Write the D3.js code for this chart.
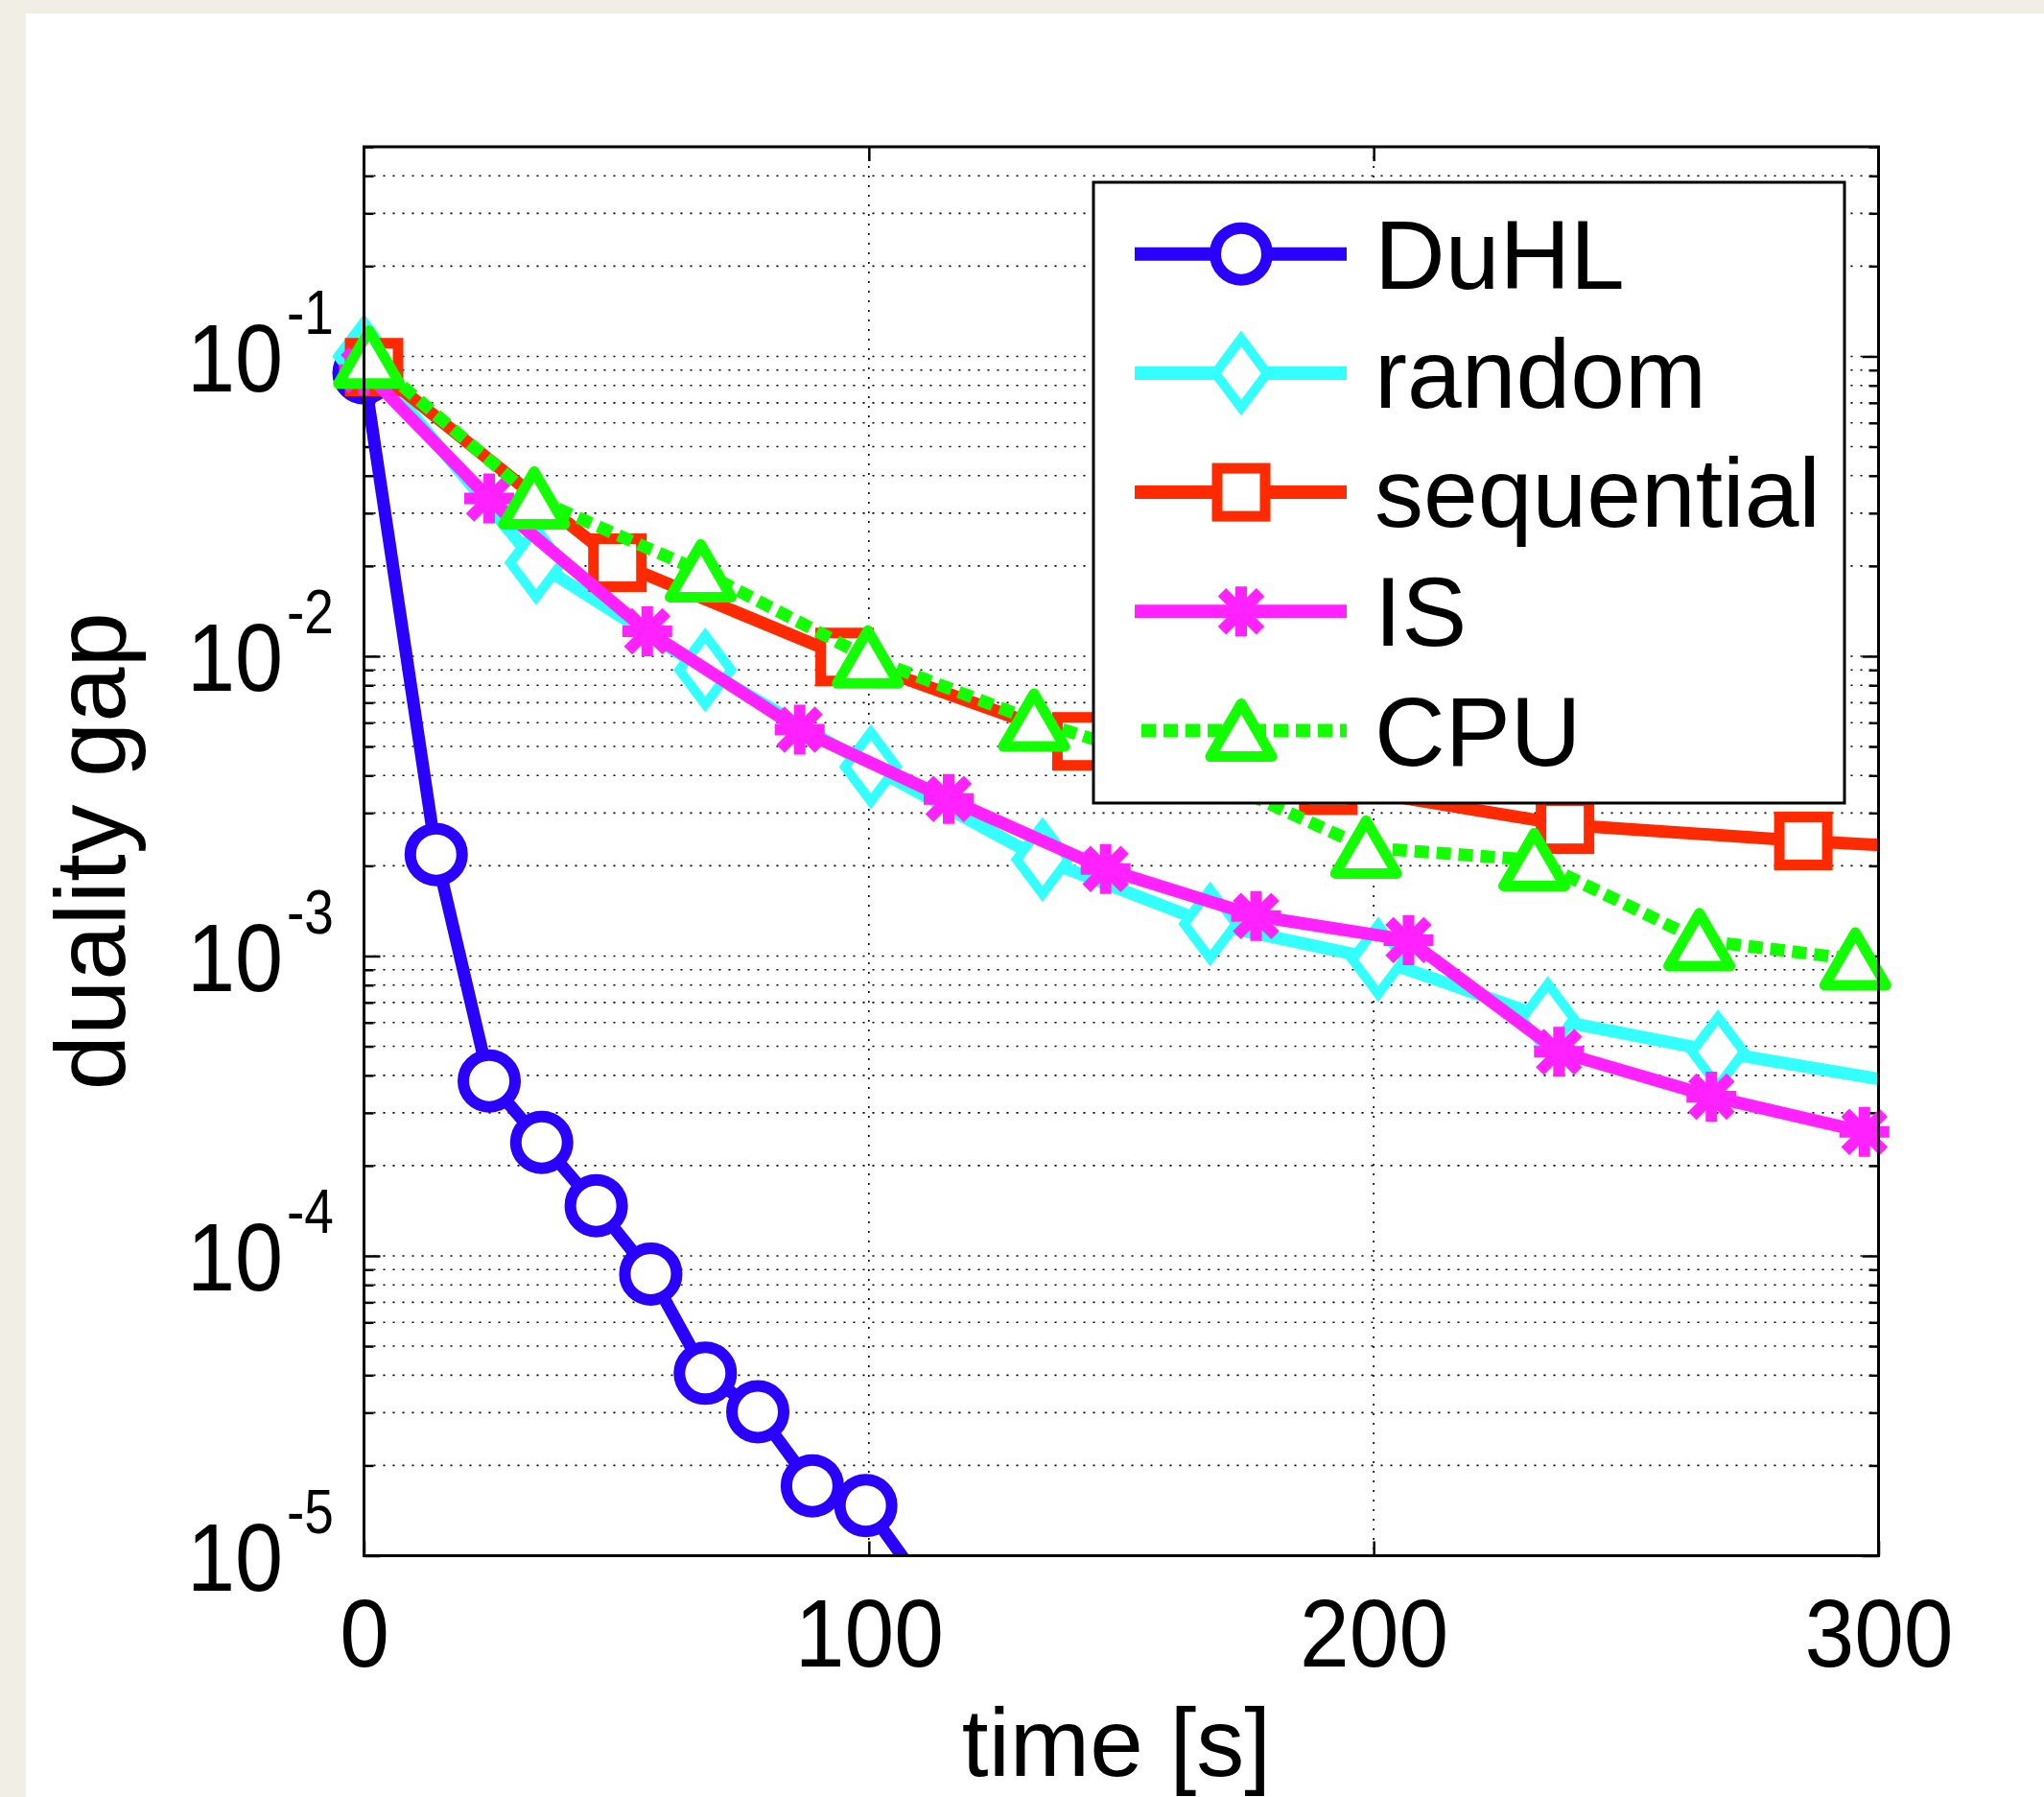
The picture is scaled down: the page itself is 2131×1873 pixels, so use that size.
<!DOCTYPE html>
<html lang="en">
<head>
  <meta charset="utf-8">
  <title>duality gap vs time</title>
  <script src="https://d3js.org/d3.v7.min.js"></script>
  <style>
    body { margin: 0; background: #f1eee6; }
    svg { display: block; }
    text { font-family: "Liberation Sans", Arial, sans-serif; fill: #000; }
    .grid line { stroke: #000; stroke-width: 1.6; stroke-dasharray: 2, 8; }
    .axis path { display: none; }
    .axis line { stroke: #000; stroke-width: 2.5; }
  </style>
</head>
<body>
<script>
  // values (time in s, duality gap)
  const duhlTime = [0, 14.3, 24.8, 35.2, 46.0, 56.8, 67.6, 78.0, 88.8, 99.4, 110.2];
  const duhlGap = [0.088, 2.18e-3, 3.83e-4, 2.39e-4, 1.47e-4, 8.7e-5, 4.06e-5, 3.02e-5, 1.71e-5, 1.47e-5, 8.2e-6];

  const randomTime = [0, 34.1, 67.6, 100.4, 134.4, 167.6, 200.9, 234.5, 268.2, 301.7];
  const randomGap = [0.1, 0.0205, 9.0e-3, 4.28e-3, 2.1e-3, 1.28e-3, 9.75e-4, 6.19e-4, 4.79e-4, 3.85e-4];

  const seqTime = [2, 50.2, 95.2, 142.1, 191, 237.9, 285.1, 332];
  const seqGap = [0.092, 0.0205, 9.94e-3, 5.2e-3, 3.7e-3, 2.74e-3, 2.42e-3, 2.2e-3];

  const isTime = [0, 24.8, 56.1, 86.3, 115.8, 146.9, 176.7, 206.9, 236.7, 266.9, 297.2, 327];
  const isGap = [0.09, 0.0336, 0.0121, 5.69e-3, 3.34e-3, 1.95e-3, 1.36e-3, 1.13e-3, 4.79e-4, 3.4e-4, 2.59e-4, 1.95e-4];

  const cpuTime = [1, 33.7, 66.7, 99.8, 132.7, 165.6, 198.5, 231.8, 264.5, 295.4, 328];
  const cpuGap = [0.099, 0.0336, 0.0192, 9.9e-3, 6.1e-3, 4.1e-3, 2.3e-3, 2.09e-3, 1.13e-3, 9.75e-4, 8.8e-4];

  const seriesNames = ["DuHL", "random", "sequential", "IS", "CPU"];
  const xTicks = [0, 100, 200, 300];
  const yDecades = [-5, -4, -3, -2, -1];

  const series = [
    { name: seriesNames[0], t: duhlTime, v: duhlGap, color: "#2a00ff", marker: "circle", dash: null },
    { name: seriesNames[1], t: randomTime, v: randomGap, color: "#33ffff", marker: "diamond", dash: null },
    { name: seriesNames[2], t: seqTime, v: seqGap, color: "#ff2a00", marker: "square", dash: null },
    { name: seriesNames[3], t: isTime, v: isGap, color: "#ff22ff", marker: "star", dash: null },
    { name: seriesNames[4], t: cpuTime, v: cpuGap, color: "#11ff00", marker: "triangle", dash: "15,8" }
  ];

  const W = 2131, H = 1873;
  const pLeft = 379.5, pRight = 1958.5, pTop = 153, pBottom = 1621.5;

  const svg = d3.select("body").append("svg")
    .attr("width", W)
    .attr("height", H);

  // white card on beige page
  svg.append("rect").attr("x", 27).attr("y", 14).attr("width", W - 27).attr("height", H - 14).attr("fill", "#fff");

  const x = d3.scaleLinear().domain([0, 300]).range([pLeft, pRight]);
  const y = d3.scaleLog().domain([1e-5, 0.5]).range([pBottom, pTop]);

  // grid values
  const minorVals = [];
  const majorVals = yDecades.map(d => Math.pow(10, d));
  yDecades.forEach(d => {
    for (let k = 2; k <= 9; k++) {
      const v = k * Math.pow(10, d);
      if (v <= 0.5) minorVals.push(v);
    }
  });

  const grid = svg.append("g").attr("class", "grid");
  grid.selectAll(".hy")
    .data(minorVals.concat(majorVals.slice(1)))
    .enter().append("line")
    .attr("x1", pLeft).attr("x2", pRight)
    .attr("y1", d => y(d)).attr("y2", d => y(d));
  grid.selectAll(".vx")
    .data([100, 200])
    .enter().append("line")
    .attr("x1", d => x(d)).attr("x2", d => x(d))
    .attr("y1", pTop).attr("y2", pBottom);

  // ticks (inward, MATLAB style)
  svg.append("g").attr("class", "axis")
    .attr("transform", `translate(0,${pBottom})`)
    .call(d3.axisBottom(x).tickValues(xTicks).tickSize(-15).tickPadding(45))
    .call(g => g.selectAll("text")
      .attr("font-size", 100)
      .attr("font-family", "Liberation Sans, Arial, sans-serif")
      .attr("transform", "scale(0.93,1)"));
  svg.append("g").attr("class", "axis")
    .attr("transform", `translate(0,${pTop})`)
    .call(d3.axisTop(x).tickValues([100, 200]).tickSize(-15).tickFormat(""));

  svg.append("g").attr("class", "axis")
    .attr("transform", `translate(${pLeft},0)`)
    .call(d3.axisLeft(y).tickValues(majorVals).tickSize(-17).tickFormat(""));
  svg.append("g").attr("class", "axis")
    .attr("transform", `translate(${pLeft},0)`)
    .call(d3.axisLeft(y).tickValues(minorVals).tickSize(-10).tickFormat(""));
  svg.append("g").attr("class", "axis")
    .attr("transform", `translate(${pRight},0)`)
    .call(d3.axisRight(y).tickValues(majorVals).tickSize(-17).tickFormat(""));
  svg.append("g").attr("class", "axis")
    .attr("transform", `translate(${pRight},0)`)
    .call(d3.axisRight(y).tickValues(minorVals).tickSize(-10).tickFormat(""));

  // y tick labels 10^d
  const yl = svg.append("g").selectAll("g")
    .data(yDecades)
    .enter().append("g");
  yl.append("text")
    .attr("transform", d => `translate(295,${y(Math.pow(10, d)) + 36.5}) scale(0.9,1)`)
    .attr("text-anchor", "end")
    .attr("font-size", 100)
    .text("10");
  yl.append("text")
    .attr("transform", d => `translate(299,${y(Math.pow(10, d)) - 23.5}) scale(0.86,1)`)
    .attr("font-size", 64)
    .text(d => "-" + Math.abs(d));

  // axis titles
  svg.append("text")
    .attr("x", (pLeft + pRight) / 2 - 5)
    .attr("y", 1851)
    .attr("text-anchor", "middle")
    .attr("font-size", 100)
    .text("time [s]");
  svg.append("text")
    .attr("transform", `translate(130,${(pTop + pBottom) / 2}) rotate(-90)`)
    .attr("text-anchor", "middle")
    .attr("font-size", 103)
    .text("duality gap");

  // clip for the lines
  svg.append("clipPath").attr("id", "plotclip")
    .append("rect").attr("x", pLeft).attr("y", pTop)
    .attr("width", pRight - pLeft).attr("height", pBottom - pTop);

  function drawMarker(g, type, color) {
    const sw = 11;
    if (type === "circle") {
      g.append("circle").attr("r", 27).attr("fill", "#fff").attr("stroke", color).attr("stroke-width", sw + 1);
    } else if (type === "square") {
      g.append("rect").attr("x", -25).attr("y", -25).attr("width", 50).attr("height", 50)
        .attr("fill", "#fff").attr("stroke", color).attr("stroke-width", sw);
    } else if (type === "diamond") {
      g.append("path").attr("d", "M0,-36L27,0L0,36L-27,0Z")
        .attr("fill", "#fff").attr("stroke", color).attr("stroke-width", sw - 1);
    } else if (type === "triangle") {
      g.append("path").attr("d", "M0,-28L32,27L-32,27Z")
        .attr("fill", "#fff").attr("stroke", color).attr("stroke-width", sw).attr("stroke-linejoin", "round");
    } else if (type === "star") {
      const a = 26, b = 20;
      g.append("path").attr("d", `M0,${-a}V${a}M${-a},0H${a}M${-b},${-b}L${b},${b}M${-b},${b}L${b},${-b}`)
        .attr("fill", "none").attr("stroke", color).attr("stroke-width", sw + 1);
    }
  }

  const line = d3.line().x(d => x(d.t)).y(d => y(d.v));

  series.forEach(s => {
    const pts = s.t.map((t, i) => ({ t: t, v: s.v[i] }));
    const g = svg.append("g");
    g.append("path")
      .datum(pts)
      .attr("d", line)
      .attr("clip-path", "url(#plotclip)")
      .attr("fill", "none")
      .attr("stroke", s.color)
      .attr("stroke-width", 13)
      .attr("stroke-linejoin", "round")
      .attr("stroke-dasharray", s.dash);
    const inside = pts.filter(p => p.t >= 0 && p.t <= 300 && p.v >= 1e-5);
    inside.forEach(p => {
      const m = g.append("g").attr("transform", `translate(${x(p.t)},${y(p.v)})`);
      drawMarker(m, s.marker, s.color);
    });
  });

  // axes box
  svg.append("rect")
    .attr("x", pLeft).attr("y", pTop)
    .attr("width", pRight - pLeft).attr("height", pBottom - pTop)
    .attr("fill", "none").attr("stroke", "#000").attr("stroke-width", 3);

  // legend
  const lg = svg.append("g");
  lg.append("rect")
    .attr("x", 1140).attr("y", 190).attr("width", 783).attr("height", 647)
    .attr("fill", "#fff").attr("stroke", "#000").attr("stroke-width", 3);
  const rows = lg.selectAll(".row")
    .data(series)
    .enter().append("g")
    .attr("transform", (d, i) => `translate(0,${264.7 + i * 124.2})`);
  rows.append("line")
    .attr("x1", d => d.dash ? 1190 : 1183).attr("x2", 1404)
    .attr("stroke", d => d.color)
    .attr("stroke-width", 14)
    .attr("stroke-dasharray", d => d.dash);
  rows.each(function(d) {
    const m = d3.select(this).append("g").attr("transform", "translate(1294,0)");
    drawMarker(m, d.marker, d.color);
  });
  rows.append("text")
    .attr("x", 1433)
    .attr("y", 36)
    .attr("font-size", 102)
    .text(d => d.name);
</script>
</body>
</html>
